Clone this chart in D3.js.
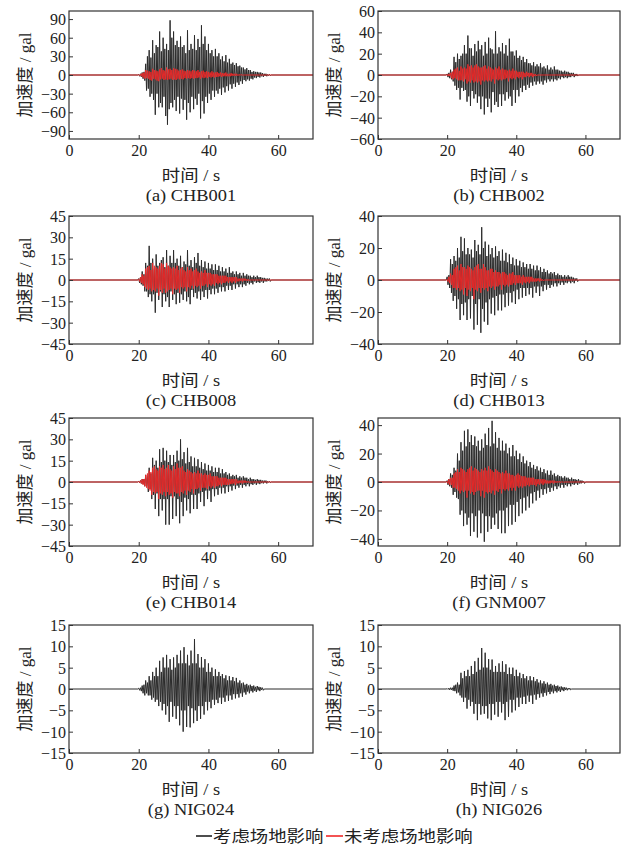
<!DOCTYPE html>
<html>
<head>
<meta charset="utf-8">
<script src="https://cdn.jsdelivr.net/npm/d3@7"></script>
<style>
  body { margin: 0; background: #fff; }
  svg { display: block; }
</style>
</head>
<body>
<svg id="svg" width="621" height="847"></svg>
<script>
// panel captions, y limits and y ticks
const captions = ["(a) CHB001", "(b) CHB002", "(c) CHB008", "(d) CHB013",
  "(e) CHB014", "(f) GNM007", "(g) NIG024", "(h) NIG026"];
const yLimits = [103, 60, 45, 40, 45, 45, 15, 15];
const yTickSets = [
  [-90, -60, -30, 0, 30, 60, 90],
  [-60, -40, -20, 0, 20, 40, 60],
  [-45, -30, -15, 0, 15, 30, 45],
  [-40, -20, 0, 20, 40],
  [-45, -30, -15, 0, 15, 30, 45],
  [-40, -20, 0, 20, 40],
  [-15, -10, -5, 0, 5, 10, 15],
  [-15, -10, -5, 0, 5, 10, 15]
];
const xTicks = [0, 20, 40, 60];
const xMax = 70;

// acceleration (gal), read every 0.25 s starting at 20 s (one row = 2 s)
const t0 = 20, dt = 0.25;

const blackA = [
  1, -2, 2, -3, 4, -6, 5, -9,
  18, -25, 30, -22, 40, -35, 28, -30,
  56, -40, 35, -64, 48, -30, 45, -52,
  70, -45, 38, -52, 60, -35, 42, -66,
  50, -80, 40, -55, 88, -45, 60, -52,
  70, -40, 48, -58, 55, -35, 45, -62,
  62, -38, 45, -56, 48, -40, 35, -72,
  72, -45, 40, -60, 50, -35, 42, -55,
  64, -38, 40, -48, 58, -30, 45, -70,
  80, -42, 50, -62, 62, -35, 40, -45,
  50, -30, 35, -40, 40, -25, 30, -35,
  42, -25, 30, -30, 35, -22, 25, -32,
  30, -20, 22, -28, 32, -18, 20, -25,
  26, -15, 18, -22, 20, -14, 16, -19,
  19, -12, 14, -16, 15, -10, 12, -14,
  12, -8, 9, -10, 11, -7, 8, -9,
  8, -6, 5, -7, 6, -4, 5, -5,
  5, -3, 4, -4, 4, -2, 3, -3,
  2, -1.5, 2, -2, 1, -1, 1, -1];
const redA = [
  0.5, -1, 1.5, -2, 3, -4, 4, -6,
  8, -5, 7, -6, 6, -8, 5, -9,
  10, -6, 8, -7, 7, -9, 6, -10,
  9, -7, 11, -6, 8, -8, 7, -7,
  12, -8, 9, -7, 10, -6, 8, -8,
  11, -7, 10, -8, 9, -6, 7, -7,
  8, -6, 9, -7, 7, -5, 6, -6,
  8, -5, 7, -6, 6, -5, 8, -6,
  7, -5, 6, -5, 8, -4, 5, -6,
  6, -4, 7, -5, 5, -4, 6, -5,
  5, -3, 4, -4, 6, -3, 4, -4,
  4, -3, 5, -3, 3, -2, 4, -3,
  3, -2, 3, -2, 4, -2, 2, -2,
  2, -2, 3, -1.5, 2, -1, 2, -1.5,
  2, -1, 1, -1, 1, -0.5, 1, -0.5];

const blackB = [
  1, -2, 2, -3, 5, -4, 3, -6,
  17, -10, 12, -14, 20, -12, 15, -23,
  18, -12, 20, -15, 28, -14, 20, -25,
  37, -20, 25, -29, 25, -15, 18, -22,
  29, -18, 22, -26, 32, -20, 24, -32,
  28, -20, 18, -37, 31, -22, 20, -30,
  35, -22, 25, -35, 24, -16, 20, -28,
  41, -25, 20, -30, 26, -18, 22, -29,
  30, -18, 20, -24, 28, -16, 18, -22,
  34, -20, 22, -29, 22, -14, 18, -26,
  23, -14, 16, -20, 18, -12, 14, -16,
  17, -10, 12, -14, 15, -9, 11, -12,
  11, -7, 9, -10, 12, -6, 8, -9,
  10, -6, 8, -8, 11, -6, 7, -9,
  8, -5, 6, -7, 9, -4, 5, -6,
  7, -4, 5, -6, 8, -4, 5, -5,
  5, -3, 4, -4, 4, -2, 3, -3,
  4, -2, 3, -3, 3, -2, 2, -2,
  2, -1, 2, -2, 1, -1, 1, -1];
const redB = [
  0.5, -1, 1, -1, 2, -3, 3, -4,
  5, -3, 6, -4, 7, -5, 4, -5,
  8, -5, 6, -6, 7, -4, 6, -8,
  10, -6, 8, -7, 9, -5, 7, -7,
  9, -6, 10, -7, 8, -6, 7, -9,
  7, -5, 8, -6, 9, -5, 6, -6,
  8, -5, 7, -6, 6, -4, 5, -8,
  7, -4, 6, -5, 8, -4, 5, -5,
  6, -4, 5, -4, 5, -3, 4, -6,
  5, -3, 4, -4, 6, -3, 4, -4,
  4, -2, 3, -3, 3, -2, 3, -4,
  3, -2, 2, -2, 3, -1, 2, -2,
  2, -1, 2, -2, 1, -1, 1, -1];

const blackC = [
  1, -2, 2, -3, 6, -4, 4, -8,
  12, -8, 10, -12, 24, -10, 12, -15,
  15, -10, 8, -23, 18, -9, 10, -14,
  12, -8, 14, -19, 16, -10, 9, -15,
  21, -12, 10, -19, 17, -8, 12, -14,
  21, -10, 12, -17, 15, -9, 10, -16,
  17, -10, 9, -14, 13, -8, 11, -15,
  21, -12, 10, -17, 14, -7, 9, -12,
  16, -9, 12, -13, 19, -8, 10, -14,
  14, -8, 9, -12, 13, -7, 8, -13,
  12, -7, 8, -10, 11, -6, 7, -10,
  11, -6, 7, -9, 10, -5, 6, -8,
  9, -5, 6, -8, 8, -4, 5, -7,
  9, -4, 5, -7, 6, -3, 4, -6,
  6, -3, 4, -5, 5, -3, 3, -5,
  5, -3, 3, -4, 4, -2, 3, -3,
  3, -2, 2, -3, 3, -1, 2, -2,
  3, -1.5, 2, -2, 2, -1, 1.5, -2,
  1.5, -1, 1, -1, 1, -0.5, 1, -1];
const redC = [
  0.5, -1, 2, -2, 4, -3, 3, -5,
  8, -6, 9, -7, 10, -6, 7, -8,
  12, -7, 10, -8, 9, -6, 8, -11,
  10, -7, 12, -9, 11, -6, 8, -9,
  12, -8, 10, -7, 9, -6, 8, -10,
  9, -6, 8, -7, 10, -6, 7, -9,
  8, -5, 9, -6, 7, -5, 6, -8,
  9, -5, 7, -6, 8, -4, 6, -6,
  7, -4, 8, -5, 6, -4, 5, -6,
  6, -4, 5, -4, 7, -3, 5, -5,
  5, -3, 5, -4, 4, -3, 4, -4,
  4, -2, 4, -3, 3, -2, 3, -3,
  3, -2, 3, -2, 3, -1, 2, -2,
  2, -1, 2, -2, 2, -1, 2, -2,
  2, -1, 1, -1, 1, -0.5, 1, -1,
  1, -0.5, 1, -0.5, 0.5, -0.5, 0.5, -0.5];

const blackD = [
  2, -3, 3, -5, 13, -8, 10, -13,
  15, -10, 12, -18, 20, -12, 14, -25,
  27, -15, 18, -22, 26, -14, 16, -25,
  20, -12, 16, -24, 19, -10, 14, -31,
  25, -15, 18, -28, 22, -12, 16, -33,
  33, -18, 20, -26, 24, -14, 15, -28,
  22, -12, 16, -21, 20, -11, 14, -22,
  21, -10, 15, -19, 18, -9, 12, -19,
  19, -9, 12, -17, 17, -8, 11, -16,
  16, -8, 10, -14, 14, -7, 9, -15,
  13, -6, 9, -12, 12, -5, 8, -11,
  11, -5, 8, -10, 10, -5, 7, -9,
  10, -5, 7, -11, 9, -4, 6, -8,
  9, -4, 6, -10, 8, -4, 5, -7,
  7, -3, 5, -6, 6, -3, 4, -5,
  5, -3, 4, -4, 5, -2, 3, -4,
  4, -2, 3, -3, 3, -1.5, 2, -3,
  3, -1.5, 2, -2, 3, -1, 2, -2,
  2, -1, 1.5, -2, 1, -0.5, 1, -1];
const redD = [
  0.5, -1, 2, -2, 4, -3, 3, -5,
  7, -5, 8, -6, 9, -5, 6, -7,
  10, -6, 8, -9, 8, -5, 7, -10,
  9, -6, 8, -7, 7, -5, 6, -12,
  8, -6, 9, -7, 10, -5, 7, -8,
  7, -5, 10, -6, 8, -5, 6, -7,
  6, -4, 7, -5, 7, -4, 5, -6,
  6, -4, 5, -4, 5, -3, 4, -6,
  5, -3, 5, -4, 4, -3, 3, -4,
  4, -3, 4, -3, 5, -2, 3, -3,
  3, -2, 3, -2, 3, -2, 2, -3,
  3, -1.5, 2, -2, 2, -1, 2, -2,
  2, -1, 2, -1, 1, -1, 1, -1,
  1, -0.5, 1, -1, 1, -0.5, 0.5, -0.5];

const blackE = [
  0.5, -0.5, 1, -1, 2, -1.5, 2, -3,
  5, -3, 4, -7, 10, -5, 6, -12,
  17, -9, 12, -19, 15, -8, 10, -24,
  23, -12, 14, -20, 24, -12, 15, -30,
  22, -12, 14, -30, 19, -10, 12, -26,
  19, -10, 14, -24, 22, -12, 15, -29,
  30, -14, 16, -24, 21, -11, 13, -20,
  24, -12, 14, -22, 18, -9, 11, -19,
  17, -9, 11, -19, 16, -8, 10, -14,
  14, -7, 9, -17, 13, -6, 8, -12,
  12, -6, 8, -14, 11, -5, 7, -10,
  10, -5, 7, -9, 10, -4, 6, -8,
  9, -4, 6, -8, 7, -3, 5, -7,
  6, -3, 4, -6, 5, -2.5, 4, -5,
  5, -2.5, 3, -4, 4, -2, 3, -4,
  4, -2, 3, -3, 3, -1.5, 2, -3,
  3, -1.5, 2, -2, 2, -1, 1.5, -2,
  2, -1, 1.5, -1.5, 1.5, -0.8, 1, -1,
  1, -0.5, 1, -1, 0.5, -0.3, 0.5, -0.5];
const redE = [
  0.3, -0.5, 1, -1, 2, -2, 2, -3,
  5, -4, 6, -5, 8, -6, 7, -9,
  10, -7, 11, -8, 9, -7, 8, -12,
  11, -8, 10, -9, 12, -7, 9, -10,
  10, -7, 12, -9, 9, -8, 8, -11,
  11, -7, 9, -8, 13, -8, 10, -10,
  10, -7, 11, -8, 8, -6, 7, -9,
  9, -6, 8, -7, 7, -5, 6, -8,
  7, -5, 6, -5, 8, -4, 6, -6,
  6, -4, 5, -4, 6, -4, 5, -5,
  5, -3, 6, -4, 4, -3, 4, -4,
  4, -3, 4, -3, 3, -2, 3, -3,
  3, -2, 3, -2, 3, -2, 2, -2,
  2, -1.5, 2, -1.5, 2, -1, 2, -2,
  2, -1, 1, -1, 1, -0.5, 1, -1,
  1, -0.5, 1, -0.5, 0.5, -0.3, 0.5, -0.5];

const blackF = [
  1, -2, 2, -3, 6, -4, 5, -9,
  10, -7, 8, -11, 20, -12, 15, -23,
  28, -20, 22, -31, 36, -22, 25, -30,
  37, -25, 28, -38, 33, -22, 26, -35,
  32, -24, 25, -39, 29, -20, 22, -36,
  30, -22, 24, -42, 34, -24, 26, -35,
  38, -24, 25, -33, 43, -25, 27, -30,
  35, -22, 24, -33, 31, -20, 22, -36,
  29, -20, 22, -36, 27, -18, 20, -31,
  24, -16, 18, -30, 26, -16, 18, -28,
  22, -14, 16, -24, 20, -12, 14, -22,
  18, -11, 13, -20, 15, -10, 11, -18,
  14, -8, 10, -15, 12, -7, 9, -13,
  11, -6, 8, -11, 10, -5, 7, -9,
  9, -5, 6, -8, 8, -4, 5, -7,
  8, -4, 5, -6, 6, -3, 4, -5,
  5, -3, 4, -4, 4, -2, 3, -4,
  4, -2, 3, -3, 3, -1.5, 2, -3,
  3, -1.5, 2, -2, 2, -1, 1.5, -2,
  2, -1, 1, -1, 1, -0.5, 0.5, -1];
const redF = [
  0.5, -1, 2, -2, 3, -2, 3, -4,
  6, -4, 7, -5, 9, -6, 7, -8,
  10, -6, 9, -7, 8, -6, 7, -11,
  9, -6, 10, -8, 11, -7, 8, -9,
  10, -7, 9, -6, 8, -6, 7, -10,
  9, -6, 8, -11, 10, -7, 8, -8,
  11, -7, 9, -8, 8, -6, 7, -9,
  9, -6, 8, -7, 7, -5, 6, -8,
  7, -5, 6, -6, 8, -5, 6, -6,
  6, -4, 5, -6, 5, -4, 4, -6,
  5, -3, 6, -4, 5, -3, 4, -4,
  4, -3, 4, -3, 3, -2, 3, -3,
  3, -2, 3, -2, 3, -2, 2, -3,
  2, -1.5, 2, -2, 2, -1, 2, -2,
  2, -1, 1.5, -1, 1, -1, 1, -1,
  1, -0.5, 1, -1, 1, -0.5, 0.5, -0.5,
  0.5, -0.3, 0.5, -0.5, 0.3, -0.3, 0.3, -0.3];

const blackG = [
  0.2, -0.3, 0.3, -0.5, 0.8, -1, 1, -1.5,
  2, -1, 1.5, -1.5, 3, -1.5, 2, -2.5,
  4, -2, 3, -3, 5, -2.5, 3, -4,
  6.6, -3, 4, -5, 7.4, -3.5, 5, -6,
  8, -4, 5, -7.7, 7, -3, 4.5, -6.5,
  7.4, -4, 5, -7, 8, -4, 6, -8.5,
  9, -5, 6, -10, 9.8, -5, 6, -8.9,
  8, -4, 5.5, -9, 9, -4.5, 6, -8,
  11.7, -5, 6, -7.5, 8.2, -4, 5, -7,
  7.5, -4, 5, -6, 7, -3, 4, -5,
  6, -3, 4, -4.5, 5, -2.5, 3, -3.7,
  4.6, -2.5, 3, -3.3, 4, -2, 3, -3.5,
  3.5, -2, 2.5, -3, 3.2, -1.5, 2, -2.8,
  3, -1.5, 2, -2.5, 2.8, -1.2, 1.8, -2.2,
  2.6, -1.2, 1.5, -2, 2, -1, 1.3, -1.8,
  1.5, -0.8, 1, -1.3, 1.2, -0.6, 0.8, -1,
  1, -0.5, 0.7, -0.8, 0.8, -0.4, 0.5, -0.7,
  0.7, -0.3, 0.5, -0.5, 0.4, -0.2, 0.3, -0.3];

const blackH = [
  0.1, -0.1, 0.2, -0.2, 0.3, -0.2, 0.3, -0.4,
  0.8, -0.5, 1, -1, 1.5, -0.8, 1, -1.5,
  3.8, -2, 2.5, -3, 4.2, -2, 3, -4.6,
  4.5, -2.5, 3, -4, 5.4, -3, 3.5, -5.8,
  6.5, -3.5, 4, -7.3, 7.3, -3.5, 4.5, -6,
  9.6, -4, 5, -5.8, 8.5, -4, 5, -6.9,
  7, -3.5, 4.5, -7.3, 6.9, -3.5, 4, -6,
  5.4, -3, 4, -6.5, 6, -3, 4, -5.5,
  6.5, -3.5, 4, -7.3, 5.8, -3, 3.5, -6.5,
  5, -2.5, 3.5, -5.5, 5, -2.5, 3, -5,
  4.5, -2, 3, -4.2, 3.8, -2, 2.5, -3.5,
  3.5, -1.8, 2.5, -3.5, 3, -1.5, 2, -3,
  3, -1.5, 2, -3.5, 2.8, -1.3, 1.8, -2.5,
  2.3, -1.2, 1.5, -2, 2, -1, 1.3, -1.8,
  1.8, -0.9, 1.2, -1.5, 1.5, -0.7, 1, -1.2,
  1.2, -0.6, 0.8, -1, 1, -0.5, 0.7, -0.8,
  0.8, -0.4, 0.5, -0.7, 0.6, -0.3, 0.4, -0.5,
  0.4, -0.2, 0.3, -0.3, 0.2, -0.1, 0.2, -0.2];

const blackSeries = [blackA, blackB, blackC, blackD, blackE, blackF, blackG, blackH];
const redSeries = [redA, redB, redC, redD, redE, redF, null, null];

const legendLabels = ["考虑场地影响", "未考虑场地影响"];

// layout
const colLeft = [69, 378];
const colRight = [313, 620];
const rowTop = [11, 216, 418, 625];
const plotH = 128;
const serif = "'Liberation Serif', 'Times New Roman', 'Noto Sans CJK SC', serif";
const cjk = "'Liberation Serif', 'Noto Sans CJK SC', sans-serif";

const svg = d3.select("#svg");

function toPoints(vals) {
  const pts = [[0, 0], [t0 - dt, 0]];
  vals.forEach((v, i) => pts.push([t0 + i * dt, v]));
  pts.push([t0 + vals.length * dt, 0]);
  pts.push([xMax, 0]);
  return pts;
}

function stretchedText(g, x, y, txt, size, family, sx) {
  return g.append("text")
    .attr("transform", `translate(${x},${y}) scale(${sx},1)`)
    .attr("text-anchor", "middle")
    .style("font-family", family)
    .style("font-size", size + "px")
    .attr("fill", "#222")
    .text(txt);
}

captions.forEach((cap, k) => {
  const col = k % 2, row = Math.floor(k / 2);
  const left = colLeft[col], right = colRight[col];
  const top = rowTop[row], bottom = top + plotH;

  const x = d3.scaleLinear().domain([0, xMax]).range([left, right]);
  const y = d3.scaleLinear().domain([-yLimits[k], yLimits[k]]).range([bottom, top]);

  const g = svg.append("g");

  const clipId = "clip" + k;
  g.append("clipPath").attr("id", clipId)
    .append("rect").attr("x", left).attr("y", top)
    .attr("width", right - left).attr("height", plotH);

  const line = d3.line().x((d) => x(d[0])).y((d) => y(d[1]));

  g.append("path")
    .datum(toPoints(blackSeries[k]))
    .attr("clip-path", `url(#${clipId})`)
    .attr("fill", "none")
    .attr("stroke", "#2b2b2b")
    .attr("stroke-width", 1)
    .attr("d", line);

  if (redSeries[k]) {
    g.append("path")
      .datum(toPoints(redSeries[k]))
      .attr("clip-path", `url(#${clipId})`)
      .attr("fill", "none")
      .attr("stroke", "#f02828")
      .attr("stroke-width", 0.9)
      .attr("d", line);
  }

  // axes with inward ticks
  const xAxis = g.append("g")
    .attr("transform", `translate(0,${bottom})`)
    .call(d3.axisBottom(x).tickValues(xTicks).tickSize(-4).tickPadding(6).tickFormat(d3.format("d")));
  const yAxis = g.append("g")
    .attr("transform", `translate(${left},0)`)
    .call(d3.axisLeft(y).tickValues(yTickSets[k]).tickSize(-4).tickPadding(3)
      .tickFormat((d) => (d < 0 ? "\u2212" + Math.abs(d) : d)));

  [xAxis, yAxis].forEach((a) => {
    a.select(".domain").remove();
    a.selectAll("line").attr("stroke", "#333").attr("stroke-width", 1);
    a.selectAll("text")
      .style("font-family", serif)
      .style("font-size", "16px")
      .attr("fill", "#222");
  });
  xAxis.selectAll("text").attr("dy", "0.71em");
  yAxis.selectAll("text").attr("dy", "0.34em");

  // frame
  g.append("rect")
    .attr("x", left).attr("y", top)
    .attr("width", right - left).attr("height", plotH)
    .attr("fill", "none")
    .attr("stroke", "#333")
    .attr("stroke-width", 1.2);

  // y label
  g.append("text")
    .attr("transform", `translate(${left - 44},${(top + bottom) / 2}) rotate(-90)`)
    .attr("text-anchor", "middle")
    .attr("dy", "0.35em")
    .style("font-family", cjk)
    .style("font-size", "17px")
    .attr("fill", "#222")
    .text("加速度 / gal");

  const cx = (left + right) / 2;
  stretchedText(g, cx, bottom + 42, "时间 / s", 16, cjk, 1.15);
  stretchedText(g, cx, bottom + 62, cap, 16, serif, 1.15);
});

// legend
const legend = svg.append("g").attr("transform", "translate(0,836)");
legend.append("line").attr("x1", 196).attr("x2", 212).attr("y1", 0).attr("y2", 0)
  .attr("stroke", "#222").attr("stroke-width", 1.6);
legend.append("text")
  .attr("transform", "translate(213,0) scale(1.15,1)")
  .attr("dy", "0.35em")
  .style("font-family", "'Noto Sans CJK SC', sans-serif")
  .style("font-size", "16px")
  .attr("fill", "#222")
  .text(legendLabels[0]);
legend.append("line").attr("x1", 326).attr("x2", 343).attr("y1", 0).attr("y2", 0)
  .attr("stroke", "#f02828").attr("stroke-width", 1.6);
legend.append("text")
  .attr("transform", "translate(344,0) scale(1.15,1)")
  .attr("dy", "0.35em")
  .style("font-family", "'Noto Sans CJK SC', sans-serif")
  .style("font-size", "16px")
  .attr("fill", "#222")
  .text(legendLabels[1]);
</script>
</body>
</html>
